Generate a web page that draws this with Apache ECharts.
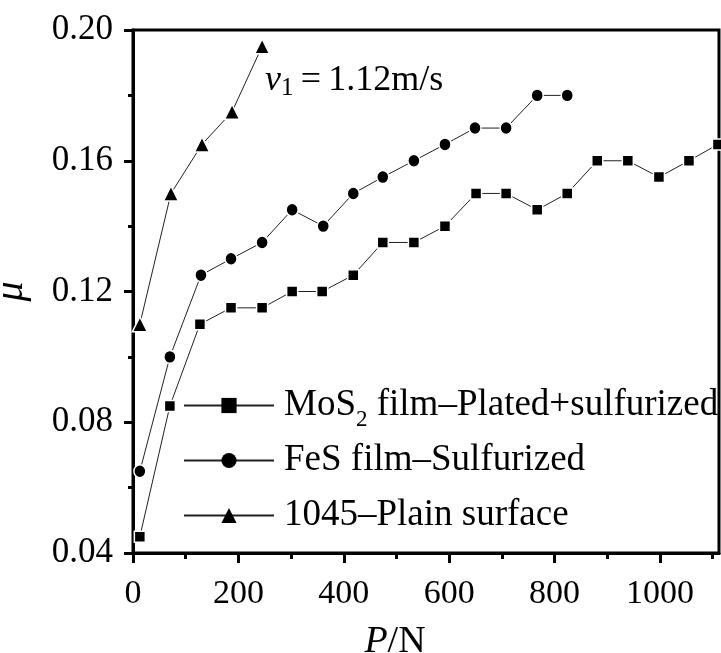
<!DOCTYPE html>
<html>
<head>
<meta charset="utf-8">
<script src="https://cdn.jsdelivr.net/npm/echarts@6/dist/echarts.min.js"></script>
<style>
html,body{margin:0;padding:0;background:#fff;}
#chart{width:721px;height:653px;}
</style>
</head>
<body>
<div id="chart"></div>
<script>
// ---- data ----
const seriesNames = ['MoS2 film\u2013Plated+sulfurized', 'FeS film\u2013Sulfurized', '1045\u2013Plain surface'];
const mosP  = [13, 70, 127, 186, 245, 302, 359, 418, 474, 533, 592, 651, 708, 767, 824, 881, 939, 998, 1055, 1110];
const mosMu = [0.045, 0.085, 0.110, 0.115, 0.115, 0.120, 0.120, 0.125, 0.135, 0.135, 0.140, 0.150, 0.150, 0.145, 0.150, 0.160, 0.160, 0.155, 0.160, 0.165];
const fesP  = [13, 70, 129, 186, 245, 302, 361, 418, 474, 533, 592, 649, 708, 767, 824];
const fesMu = [0.065, 0.100, 0.125, 0.130, 0.135, 0.145, 0.140, 0.150, 0.155, 0.160, 0.165, 0.170, 0.170, 0.180, 0.180];
const plainP  = [13, 72, 131, 188, 245];
const plainMu = [0.110, 0.150, 0.165, 0.175, 0.195];
const xMajorTicks = [0, 200, 400, 600, 800, 1000];
const xMinorTicks = [100, 300, 500, 700, 900, 1100];
const xMin = 0, xMax = 1112;
const yMin = 0.04, yMax = 0.20, yStep = 0.04;
const annotation = { sym: 'v', sub: '1', rest: '\u2009=\u20091.12m/s' };

const pairs = (xs, ys) => xs.map((x, i) => [x, ys[i]]);
const FONT = '"Liberation Serif", "Times New Roman", serif';

const chart = echarts.init(document.getElementById('chart'), null, {renderer: 'canvas'});

const lineStyle = {color: '#222', width: 1};
const itemStyle = {color: '#000', borderColor: '#fff', borderWidth: 1.5};

// legend label: subscript the "2" of MoS2; other rows get an invisible trailing sub token so every row has equal height
const legendLabel = name => name.startsWith('MoS2')
  ? '{m|MoS}{s|2}{m|' + name.slice(4) + '}'
  : '{m|' + name + '}{s| }';

const option = {
  backgroundColor: '#fff',
  animation: false,
  grid: {left: 133, right: 2, top: 30, bottom: 100, containLabel: false, outerBoundsMode: 'none',
         show: true, borderColor: '#000', borderWidth: 3, backgroundColor: 'transparent'},
  xAxis: [{
    type: 'value', min: xMin, max: xMax, interval: 200,
    axisLine: {show: true, onZero: false, lineStyle: {color: '#000', width: 3}},
    axisTick: {show: true, length: 10, customValues: xMajorTicks, lineStyle: {color: '#000', width: 3}},
    axisLabel: {customValues: xMajorTicks, margin: 24, color: '#000', fontFamily: FONT, fontSize: 34, formatter: v => String(v)},
    splitLine: {show: false},
    name: '{i|P}{n|/N}', nameLocation: 'middle', nameGap: 70,
    nameTextStyle: {padding: [0, 62, 0, 0], rich: {
      i: {fontFamily: FONT, fontStyle: 'italic', fontSize: 38, color: '#000'},
      n: {fontFamily: FONT, fontSize: 38, color: '#000'}
    }}
  }, {
    type: 'value', min: xMin, max: xMax, interval: 100, position: 'bottom',
    axisLine: {show: false},
    axisTick: {show: true, length: 6, customValues: xMinorTicks, lineStyle: {color: '#000', width: 3}},
    axisLabel: {show: false},
    splitLine: {show: false}
  }],
  yAxis: {
    type: 'value', min: yMin, max: yMax, interval: yStep,
    axisLine: {show: true, onZero: false, lineStyle: {color: '#000', width: 3}},
    axisTick: {show: true, length: 9, lineStyle: {color: '#000', width: 3}},
    minorTick: {show: true, splitNumber: 2, length: 5, lineStyle: {color: '#000', width: 3}},
    axisLabel: {margin: 20, color: '#000', fontFamily: FONT, fontSize: 35, formatter: v => v.toFixed(2)},
    splitLine: {show: false},
    name: '\u03bc', nameLocation: 'middle', nameGap: 102,
    nameTextStyle: {fontFamily: FONT, fontStyle: 'italic', fontSize: 40, color: '#000'}
  },
  legend: {
    orient: 'vertical', left: 183, top: 387, padding: 0,
    itemWidth: 90, itemHeight: 19, itemGap: 11,
    data: seriesNames,
    itemStyle: {borderWidth: 0},
    formatter: legendLabel,
    textStyle: {padding: [0, 0, 0, 5], rich: {
      m: {fontFamily: FONT, fontSize: 37, lineHeight: 36, color: '#000'},
      s: {fontFamily: FONT, fontSize: 23, lineHeight: 22, color: '#000', padding: [14, 0, -14, 0]}
    }}
  },
  graphic: [{
    type: 'text', left: 265, top: 63, z: 10,
    style: {
      text: '{i|' + annotation.sym + '}{s|' + annotation.sub + '}{n|' + annotation.rest + '}',
      rich: {
        i: {fontFamily: FONT, fontStyle: 'italic', fontSize: 36, lineHeight: 40, fill: '#000'},
        s: {fontFamily: FONT, fontSize: 25, lineHeight: 26, verticalAlign: 'bottom', fill: '#000'},
        n: {fontFamily: FONT, fontSize: 36, lineHeight: 40, fill: '#000'}
      }
    }
  }],
  series: [
    {name: seriesNames[0], type: 'line', data: pairs(mosP, mosMu), symbol: 'rect', symbolSize: 11, lineStyle, itemStyle},
    {name: seriesNames[1], type: 'line', data: pairs(fesP, fesMu), symbol: 'circle', symbolSize: [12, 13], lineStyle, itemStyle},
    {name: seriesNames[2], type: 'line', data: pairs(plainP, plainMu), symbol: 'triangle', symbolSize: 15, lineStyle, itemStyle}
  ]
};
chart.setOption(option);
</script>
</body>
</html>
